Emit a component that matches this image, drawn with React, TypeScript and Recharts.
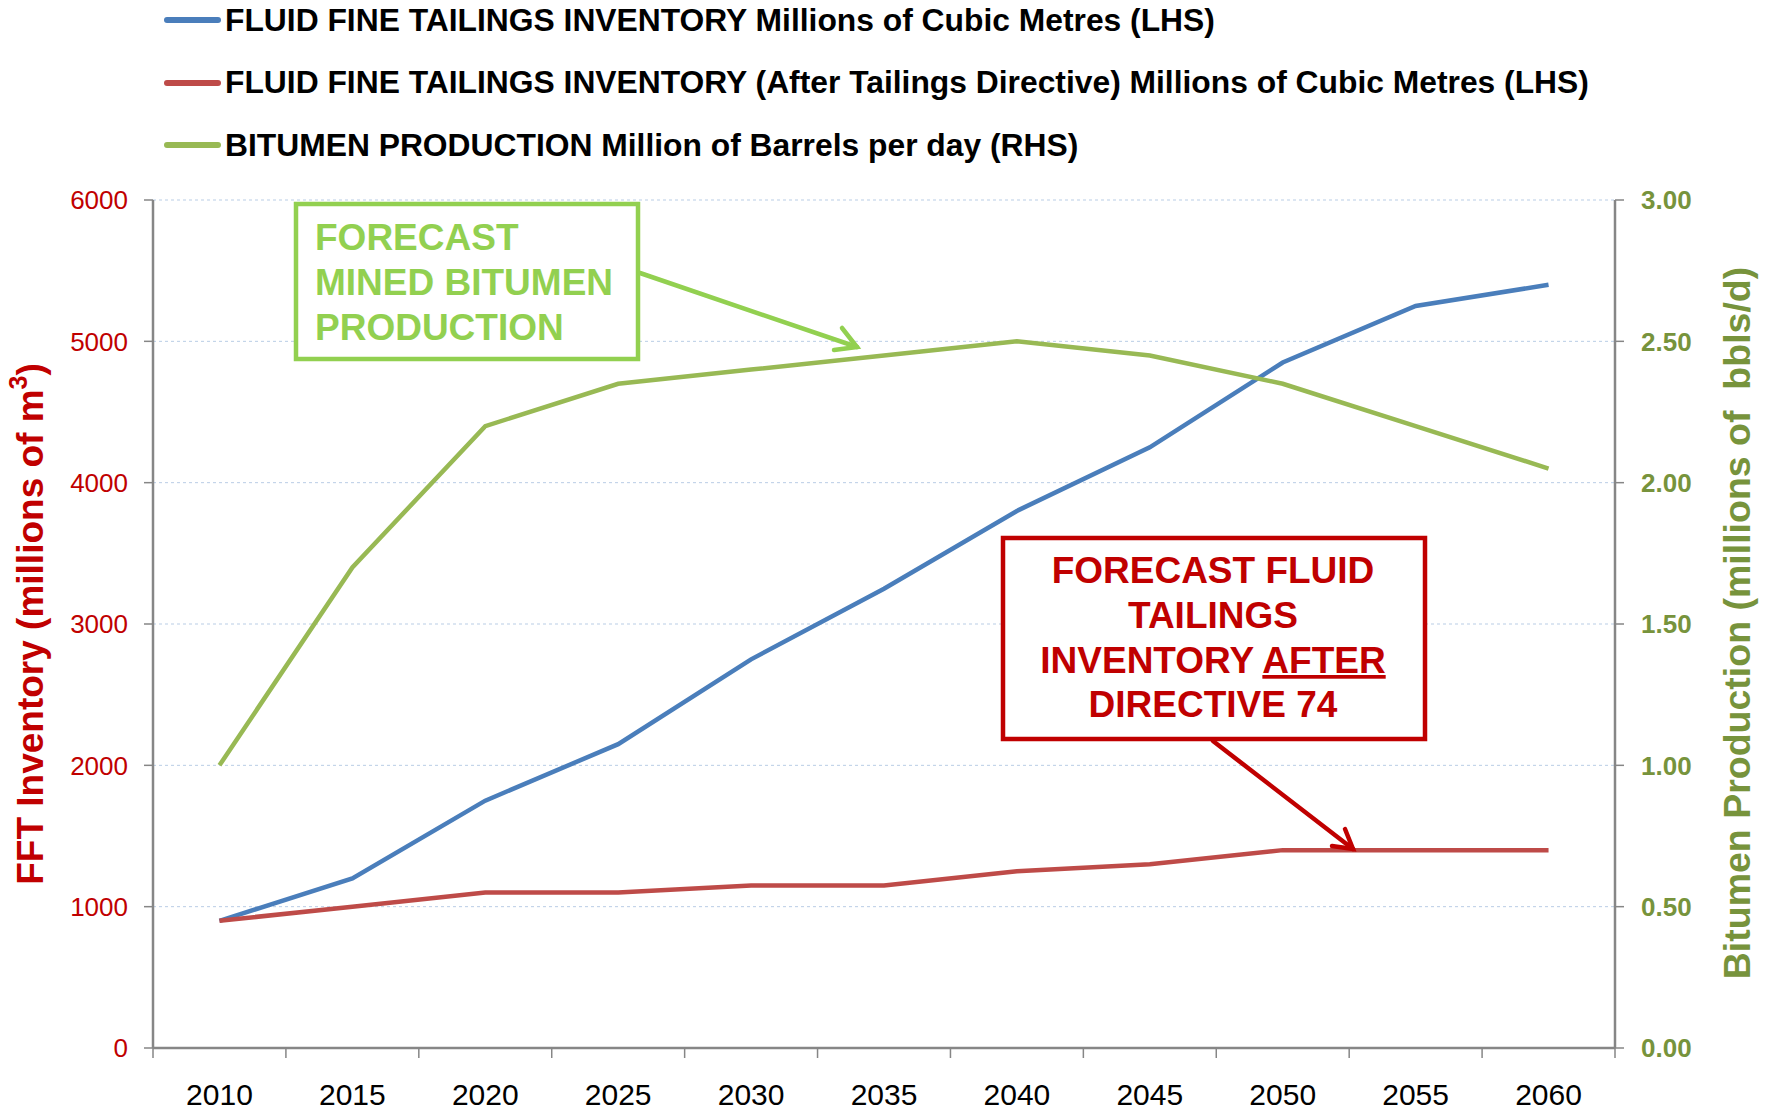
import { LineChart, Line, XAxis, YAxis, CartesianGrid } from 'recharts'

const years = ['2010', '2015', '2020', '2025', '2030', '2035', '2040', '2045', '2050', '2055', '2060']
const fftInventory = [900, 1200, 1750, 2150, 2750, 3250, 3800, 4250, 4850, 5250, 5400]
const fftAfterDirective = [900, 1000, 1100, 1100, 1150, 1150, 1250, 1300, 1400, 1400, 1400]
const bitumenProduction = [1.0, 1.7, 2.2, 2.35, 2.4, 2.45, 2.5, 2.45, 2.35, 2.2, 2.05]

const leftTicks = [0, 1000, 2000, 3000, 4000, 5000, 6000]
const rightTicks = [0, 0.5, 1, 1.5, 2, 2.5, 3]

const series = [
  { key: 'fft', axis: 'left', color: '#4a7ebb', label: 'FLUID FINE TAILINGS INVENTORY Millions of Cubic Metres (LHS)' },
  { key: 'fftAfter', axis: 'left', color: '#be4b48', label: 'FLUID FINE TAILINGS INVENTORY (After Tailings Directive) Millions of Cubic Metres (LHS)' },
  { key: 'bitumen', axis: 'right', color: '#98b954', label: 'BITUMEN PRODUCTION Million of Barrels per day (RHS)' },
]

const data = years.map((year, i) => ({
  year,
  fft: fftInventory[i],
  fftAfter: fftAfterDirective[i],
  bitumen: bitumenProduction[i],
}))

const SANS = '"Liberation Sans", Arial, sans-serif'
const RED = '#c00000'
const OLIVE = '#77933c'
const LIME = '#92d050'
const AXIS = '#868686'

// category ticks sit in the band centre; tick marks go on the band edges
function YearTick(props: any) {
  const { x, y, payload, index, width, visibleTicksCount } = props
  const count = visibleTicksCount ?? years.length
  const half = (width ?? 1462) / count / 2
  const isLast = index === count - 1
  return (
    <g>
      <line x1={x - half} x2={x - half} y1={y} y2={y + 10} stroke={AXIS} strokeWidth={1.5} />
      {isLast && <line x1={x + half} x2={x + half} y1={y} y2={y + 10} stroke={AXIS} strokeWidth={1.5} />}
      <text x={x} y={y + 57} textAnchor="middle" fontFamily={SANS} fontSize={30} fill="#000">
        {payload.value}
      </text>
    </g>
  )
}

function Legend() {
  return (
    <div style={{ position: 'absolute', left: 0, top: 0 }}>
      {series.map((s, i) => (
        <div key={s.key} style={{ position: 'absolute', left: 164, top: i * 62.5, height: 40, display: 'flex', alignItems: 'center', whiteSpace: 'nowrap' }}>
          <div style={{ width: 57, height: 6, borderRadius: 3, background: s.color }} />
          <span style={{ marginLeft: 4, fontFamily: SANS, fontWeight: 700, fontSize: 31.8, color: '#000' }}>{s.label}</span>
        </div>
      ))}
    </div>
  )
}

function Annotations() {
  return (
    <svg width={1771} height={1110} style={{ position: 'absolute', left: 0, top: 0, pointerEvents: 'none' }}>
      <text
        transform="translate(30,624) rotate(-90)"
        textAnchor="middle"
        dominantBaseline="central"
        fontFamily={SANS}
        fontWeight={700}
        fontSize={37}
        fill={RED}
      >
        FFT Inventory (millions of m<tspan dy={-12} fontSize={25}>3</tspan><tspan dy={12}>)</tspan>
      </text>
      <text
        transform="translate(1737,623) rotate(-90)"
        textAnchor="middle"
        dominantBaseline="central"
        fontFamily={SANS}
        fontWeight={700}
        fontSize={37.5}
        fill={OLIVE}
        style={{ whiteSpace: 'pre' }}
      >
        {'Bitumen Production (millions of  bbls/d)'}
      </text>

      {/* green callout */}
      <rect x={296} y={204} width={342} height={155} fill="#fff" stroke={LIME} strokeWidth={4.5} />
      <g fontFamily={SANS} fontWeight={700} fontSize={37} fill={LIME}>
        <text x={315} y={250}>FORECAST</text>
        <text x={315} y={295}>MINED BITUMEN</text>
        <text x={315} y={340}>PRODUCTION</text>
      </g>
      <g stroke={LIME} strokeWidth={4.5} strokeLinecap="round" fill="none">
        <line x1={640} y1={273} x2={857} y2={347} />
        <polyline points="842,328 857,347 834,350" />
      </g>

      {/* red callout */}
      <rect x={1003} y={538} width={422} height={201} fill="#fff" stroke={RED} strokeWidth={4.5} />
      <g fontFamily={SANS} fontWeight={700} fontSize={37} fill={RED} textAnchor="middle">
        <text x={1213} y={583}>FORECAST FLUID</text>
        <text x={1213} y={628}>TAILINGS</text>
        <text x={1213} y={673}>
          INVENTORY <tspan style={{ textDecoration: 'underline' }}>AFTER</tspan>
        </text>
        <text x={1213} y={717}>DIRECTIVE 74</text>
      </g>
      <g stroke={RED} strokeWidth={4.5} strokeLinecap="round" fill="none">
        <line x1={1213} y1={741} x2={1353} y2={849} />
        <polyline points="1345,829 1353,849 1332,846" />
      </g>
    </svg>
  )
}

export default function App() {
  return (
    <div style={{ position: 'absolute', left: 0, top: 0, width: 1771, height: 1110, background: '#fff' }}>
      <LineChart width={1771} height={1110} data={data} margin={{ top: 200, right: 0, bottom: 0, left: 0 }}>
        <CartesianGrid yAxisId="left" vertical={false} stroke="#b9cde5" strokeDasharray="3 3" />
        <XAxis
          dataKey="year"
          scale="band"
          height={62}
          axisLine={{ stroke: AXIS, strokeWidth: 2.5 }}
          tickLine={false}
          tickSize={0}
          tickMargin={0}
          interval={0}
          tick={<YearTick />}
        />
        <YAxis
          yAxisId="left"
          width={153}
          domain={[0, 6000]}
          ticks={leftTicks}
          interval={0}
          axisLine={{ stroke: AXIS, strokeWidth: 2.5 }}
          tickLine={{ stroke: AXIS, strokeWidth: 1.5 }}
          tickSize={9}
          tickMargin={16}
          tick={{ fontFamily: SANS, fontSize: 26, fill: RED }}
        />
        <YAxis
          yAxisId="right"
          orientation="right"
          width={156}
          domain={[0, 3]}
          ticks={rightTicks}
          interval={0}
          tickFormatter={(v: number) => v.toFixed(2)}
          axisLine={{ stroke: AXIS, strokeWidth: 2.5 }}
          tickLine={{ stroke: AXIS, strokeWidth: 1.5 }}
          tickSize={9}
          tickMargin={17}
          tick={{ fontFamily: SANS, fontSize: 26, fontWeight: 700, fill: OLIVE }}
        />
        {series.map((s) => (
          <Line
            key={s.key}
            yAxisId={s.axis}
            type="linear"
            dataKey={s.key}
            stroke={s.color}
            strokeWidth={4.5}
            dot={false}
            activeDot={false}
            isAnimationActive={false}
          />
        ))}
      </LineChart>
      <Legend />
      <Annotations />
    </div>
  )
}
